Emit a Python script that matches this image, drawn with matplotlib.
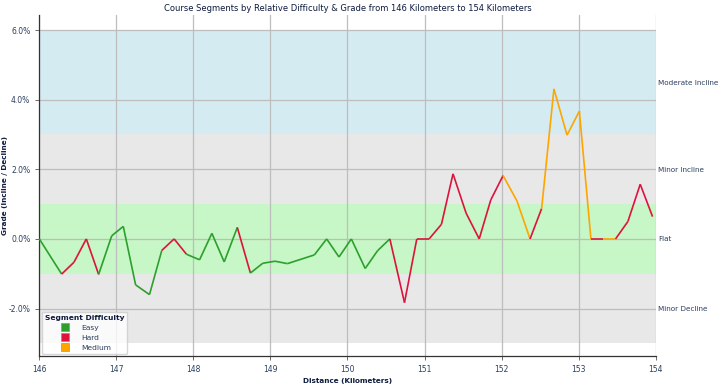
import matplotlib
matplotlib.use("Agg")
import matplotlib.pyplot as plt
import matplotlib.ticker as mticker
from matplotlib.collections import LineCollection
from matplotlib.lines import Line2D

# ── data ─────────────────────────────────────────────────────────────────────
km = [146.0, 146.29, 146.45, 146.61, 146.77, 146.94, 147.09, 147.25, 147.43, 147.59,
      147.75, 147.91, 148.08, 148.24, 148.40, 148.57, 148.74, 148.90, 149.06, 149.22,
      149.57, 149.73, 149.89, 150.05, 150.23, 150.39, 150.55, 150.74, 150.90, 151.06,
      151.22, 151.37, 151.54, 151.71, 151.86, 152.02, 152.20, 152.37, 152.52, 152.68,
      152.85, 153.01, 153.16, 153.32, 153.48, 153.64, 153.80, 153.96]
grade = [0, -1.01, -0.67, 0, -1.02, 0.09, 0.36, -1.32, -1.6, -0.33,
         0, -0.44, -0.6, 0.16, -0.66, 0.33, -0.98, -0.70, -0.64, -0.71,
         -0.46, 0, -0.52, 0, -0.85, -0.34, 0, -1.83, 0, 0,
         0.42, 1.87, 0.74, 0, 1.12, 1.82, 1.09, 0, 0.87, 4.31,
         2.98, 3.67, 0, 0, 0, 0.5, 1.57, 0.64]
# difficulty of each segment (point i -> i+1)
difficulty = (["Easy"] + ["Hard"] * 3 + ["Easy"] * 5 + ["Hard"] * 2 + ["Easy"] * 4
              + ["Hard"] + ["Easy"] * 10 + ["Hard"] * 9 + ["Medium"] * 2 + ["Hard"]
              + ["Medium"] * 4 + ["Hard"] + ["Medium"] + ["Hard"] * 3)

bands = [(3, 6, "#add8e6", "Moderate Incline", 4.5),
         (1, 3, "#d3d3d3", "Minor Incline", 2.0),
         (-1, 1, "#90ee90", "Flat", 0.0),
         (-3, -1, "#d3d3d3", "Minor Decline", -2.0)]

DIFF_COLORS = {"Easy": "#2ca02c", "Hard": "#dc143c", "Medium": "#ffa500"}
TEXT = "#2a3f5f"
DARK = "#0d1b3e"

fig = plt.figure(figsize=(7.2, 3.86), dpi=100)
ax = fig.add_axes([0.0546, 0.078, 0.856, 0.883])

for lo, hi, col, _, _ in bands:
    ax.fill_between([146, 154], lo, hi, color=col, alpha=0.5, linewidth=0)

segs = [[(km[i], grade[i]), (km[i + 1], grade[i + 1])] for i in range(len(km) - 1)]
lc = LineCollection(segs, colors=[DIFF_COLORS[d] for d in difficulty], linewidths=1.2, zorder=3)
ax.add_collection(lc)

ax.set_xlim(146, 154)
ax.set_ylim(-3.36, 6.43)
ax.set_yticks([-2, 0, 2, 4, 6])
ax.yaxis.set_major_formatter(mticker.FuncFormatter(lambda v, _: f"{v:.1f}%"))
ax.xaxis.set_major_locator(mticker.MultipleLocator(1))
ax.grid(True, color="#bdbdbd", linewidth=0.9)
ax.tick_params(labelsize=5.5, labelcolor=TEXT, color="#555555", length=3, width=0.6)
ax.spines[["top", "right"]].set_visible(False)
for s in ["left", "bottom"]:
    ax.spines[s].set_color("#333333")
    ax.spines[s].set_linewidth(0.9)

ax.set_title("Course Segments by Relative Difficulty & Grade from 146 Kilometers to 154 Kilometers",
             fontsize=6.0, color=DARK, pad=3)
ax.set_xlabel("Distance (Kilometers)", fontsize=5.2, fontweight="bold", color=DARK, labelpad=3)
ax.set_ylabel("Grade (Incline / Decline)", fontsize=5.2, fontweight="bold", color=DARK)
ax.yaxis.set_label_coords(-0.051, 0.5)

rax = ax.twinx()
rax.set_ylim(ax.get_ylim())
rax.set_yticks([b[4] for b in bands])
rax.set_yticklabels([b[3] for b in bands])
rax.tick_params(length=0, pad=2, labelsize=5.2, labelcolor=TEXT)
for s in rax.spines.values():
    s.set_visible(False)

handles = [Line2D([], [], linestyle="none", marker="s", markersize=5.5,
                  markerfacecolor=DIFF_COLORS[k], markeredgecolor="#888888",
                  markeredgewidth=0.4, label=k) for k in ["Easy", "Hard", "Medium"]]
leg = ax.legend(handles=handles, title="Segment Difficulty", loc="lower left",
                fontsize=5.4, title_fontsize=5.4, borderaxespad=0.3,
                handletextpad=1.2, labelspacing=0.5, framealpha=0.8)
leg.get_title().set_fontweight("bold")
leg.get_title().set_color(DARK)
for t in leg.get_texts():
    t.set_color(TEXT)

fig.savefig("out.png", dpi=100)
